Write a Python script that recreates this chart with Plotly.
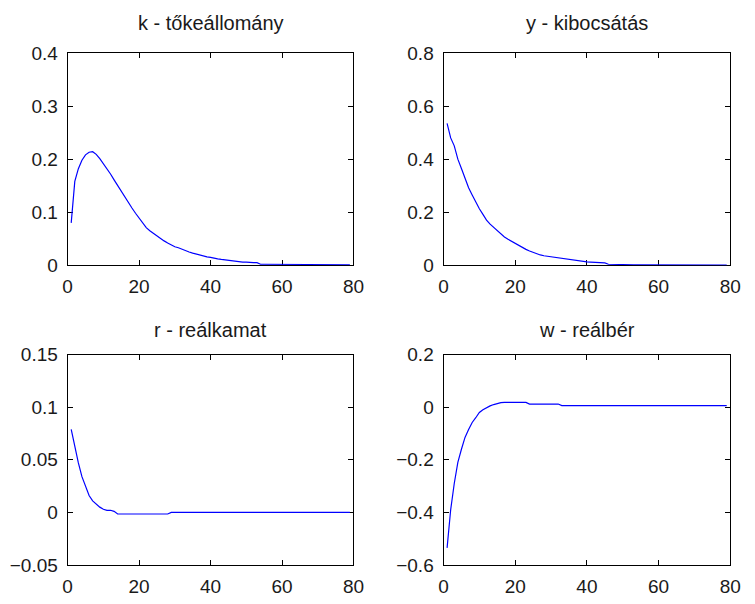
import plotly.graph_objects as go

# Impulse responses over 79 periods
periods = list(range(1, 80))

k_capital = [
    0.080, 0.158, 0.182, 0.198, 0.208, 0.213, 0.214, 0.209, 0.201, 0.192,
    0.182, 0.172, 0.161, 0.150, 0.140, 0.128, 0.117, 0.108, 0.098, 0.089,
    0.080, 0.071, 0.065, 0.060, 0.055, 0.050, 0.046, 0.042, 0.038, 0.035,
    0.033, 0.030, 0.027, 0.025, 0.023, 0.021, 0.019, 0.017, 0.016, 0.015,
    0.013, 0.012, 0.011, 0.010, 0.009, 0.008, 0.007, 0.007, 0.006, 0.006,
    0.005, 0.005, 0.005, 0.002, 0.002, 0.002, 0.002, 0.002, 0.002, 0.002,
    0.002, 0.002, 0.001, 0.001, 0.001, 0.001, 0.001, 0.001, 0.001, 0.001,
    0.001, 0.001, 0.001, 0.001, 0.001, 0.001, 0.001, 0.001, 0.001,
]

y_output = [
    0.535, 0.480, 0.450, 0.400, 0.365, 0.325, 0.292, 0.265, 0.238, 0.213,
    0.192, 0.170, 0.155, 0.143, 0.132, 0.118, 0.107, 0.098, 0.090, 0.085,
    0.077, 0.066, 0.060, 0.054, 0.048, 0.043, 0.039, 0.036, 0.034, 0.032,
    0.030, 0.027, 0.025, 0.023, 0.021, 0.019, 0.017, 0.016, 0.014, 0.013,
    0.012, 0.011, 0.010, 0.010, 0.009, 0.004, 0.003, 0.003, 0.003, 0.003,
    0.002, 0.002, 0.002, 0.002, 0.002, 0.002, 0.002, 0.002, 0.002, 0.002,
    0.002, 0.002, 0.002, 0.002, 0.002, 0.001, 0.001, 0.001, 0.001, 0.001,
    0.001, 0.001, 0.001, 0.001, 0.001, 0.001, 0.001, 0.001, 0.001,
]

r_rate = [
    0.079, 0.062, 0.047, 0.034, 0.024, 0.016, 0.011, 0.008, 0.005, 0.003,
    0.002, 0.002, 0.001, -0.0015, -0.0015, -0.0015, -0.0015, -0.0015, -0.0015, -0.0015,
    -0.0015, -0.0015, -0.0015, -0.0015, -0.0015, -0.0015, -0.0015, -0.0015, 0.0, 0.0,
    0.0, 0.0, 0.0, 0.0, 0.0, 0.0, 0.0, 0.0, 0.0, 0.0,
    0.0, 0.0, 0.0, 0.0, 0.0, 0.0, 0.0, 0.0, 0.0, 0.0,
    0.0, 0.0, 0.0, 0.0, 0.0, 0.0, 0.0, 0.0, 0.0, 0.0,
    0.0, 0.0, 0.0, 0.0, 0.0, 0.0, 0.0, 0.0, 0.0, 0.0,
    0.0, 0.0, 0.0, 0.0, 0.0, 0.0, 0.0, 0.0, 0.0,
]

w_wage = [
    -0.535, -0.390, -0.290, -0.210, -0.160, -0.115, -0.085, -0.058, -0.040, -0.020,
    -0.010, -0.002, 0.005, 0.010, 0.014, 0.017, 0.018, 0.018, 0.018, 0.018,
    0.018, 0.018, 0.018, 0.012, 0.012, 0.012, 0.012, 0.012, 0.012, 0.012,
    0.012, 0.012, 0.006, 0.006, 0.006, 0.006, 0.006, 0.006, 0.006, 0.006,
    0.006, 0.006, 0.006, 0.006, 0.006, 0.006, 0.006, 0.006, 0.006, 0.006,
    0.006, 0.006, 0.006, 0.006, 0.006, 0.006, 0.006, 0.006, 0.006, 0.006,
    0.006, 0.006, 0.006, 0.006, 0.006, 0.006, 0.006, 0.006, 0.006, 0.006,
    0.006, 0.006, 0.006, 0.006, 0.006, 0.006, 0.006, 0.006, 0.006,
]

titles = ["k - tőkeállomány", "y - kibocsátás", "r - reálkamat", "w - reálbér"]
series = [k_capital, y_output, r_rate, w_wage]
y_ranges = [[0, 0.4], [0, 0.8], [-0.05, 0.15], [-0.6, 0.2]]
y_dticks = [0.1, 0.2, 0.05, 0.2]

W, H = 755, 604
# panel boxes in pixels: (left, right, top, bottom, title gap)
boxes = [
    (64, 356, 44.5, 264.5, 18),
    (448, 741, 44.5, 264.5, 18),
    (64, 356, 357, 575, 12),
    (448, 741, 357, 575, 12),
]

FONT = "Liberation Sans, Arial, sans-serif"

fig = go.Figure()
layout = dict(
    width=W, height=H,
    margin=dict(l=0, r=0, t=0, b=0),
    paper_bgcolor="white", plot_bgcolor="white",
    showlegend=False,
    annotations=[],
)

for i, (vals, title, yr, dt, box) in enumerate(zip(series, titles, y_ranges, y_dticks, boxes)):
    n = "" if i == 0 else str(i + 1)
    left, right, top, bottom, gap = box
    fig.add_trace(go.Scatter(
        x=periods, y=vals, mode="lines",
        line=dict(color="#0000ff", width=1.2),
        xaxis="x" + n, yaxis="y" + n,
    ))
    axis_common = dict(
        showline=True, linecolor="black", linewidth=1, mirror="ticks",
        ticks="inside", ticklen=5, tickcolor="black", tickwidth=1,
        showgrid=False, zeroline=False,
        tickfont=dict(family=FONT, size=19, color="#1a1a1a"),
        layer="below traces",
    )
    layout["xaxis" + n] = dict(
        axis_common,
        domain=[left / W, right / W],
        range=[0, 80], tick0=0, dtick=20,
        anchor="y" + n,
        ticklabelstandoff=4,
    )
    layout["yaxis" + n] = dict(
        axis_common,
        domain=[1 - bottom / H, 1 - top / H],
        range=yr, tick0=yr[0], dtick=dt,
        anchor="x" + n,
        ticklabelstandoff=5,
    )
    layout["annotations"].append(dict(
        text=title, xref="paper", yref="paper",
        x=(left + right) / 2 / W, y=1 - (top - gap) / H,
        xanchor="center", yanchor="bottom", showarrow=False,
        font=dict(family=FONT, size=20, color="#1a1a1a"),
    ))

fig.update_layout(**layout)
fig.write_html("out.html")
